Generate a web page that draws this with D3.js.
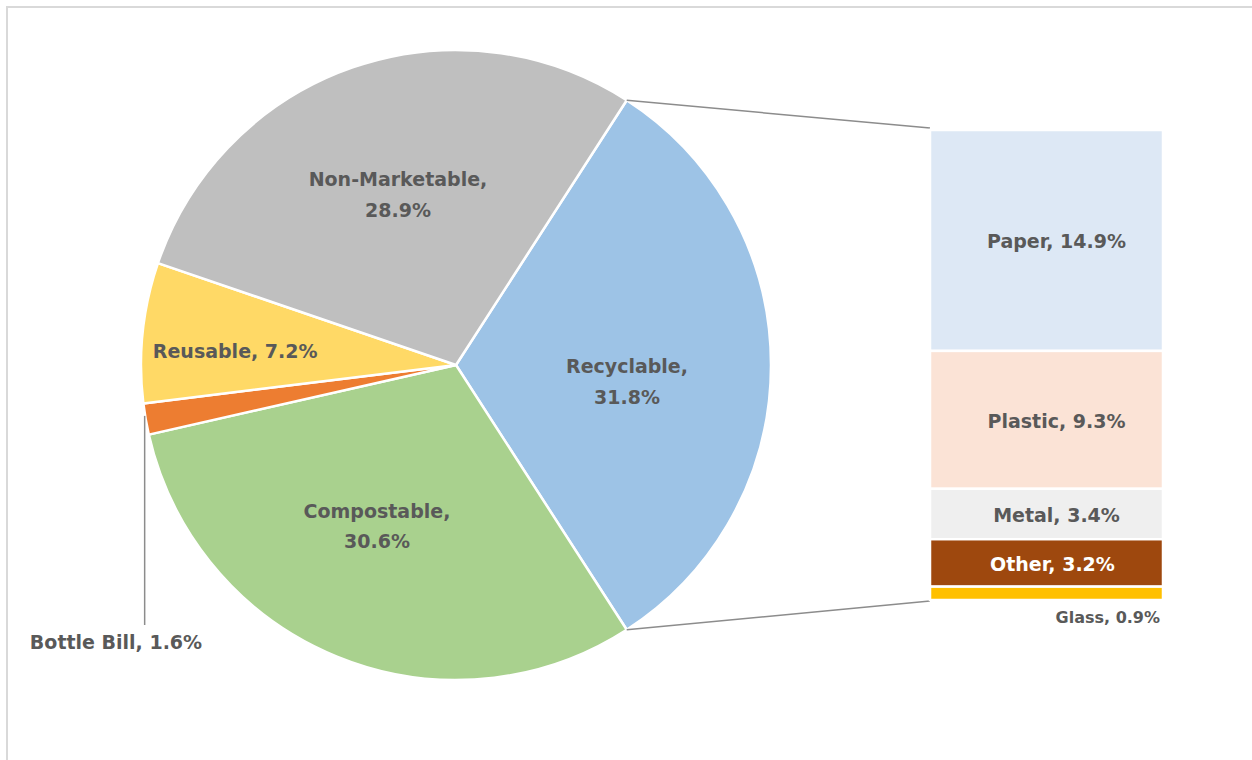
<!DOCTYPE html>
<html>
<head>
<meta charset="utf-8">
<script src="https://cdn.jsdelivr.net/npm/d3@7"></script>
<style>
  body { margin: 0; background: #fff; }
  text { font-family: "DejaVu Sans", "Open Sans", sans-serif; font-weight: 700; }
</style>
</head>
<body>
<script>
// main pie, clockwise from the top of the Recyclable slice
var pieNames = ["Recyclable", "Compostable", "Bottle Bill", "Reusable", "Non-Marketable"];
var pieValues = [31.8, 30.6, 1.6, 7.2, 28.9];
var pieColors = ["#9dc3e6", "#a9d18e", "#ed7d31", "#ffd966", "#bfbfbf"];

// breakdown of the Recyclable slice, top to bottom
var barNames = ["Paper", "Plastic", "Metal", "Other", "Glass"];
var barValues = [14.9, 9.3, 3.4, 3.2, 0.9];
var barColors = ["#dde8f5", "#fbe3d6", "#efefef", "#9e480e", "#ffc000"];

var W = 1252, H = 760;
var cx = 456, cy = 365, R = 315;
var fmt = d3.format(".1f");

var svg = d3.select("body").append("svg").attr("width", W).attr("height", H);

// frame (only top and left edges fall inside the picture)
svg.append("rect").attr("x", 7).attr("y", 7).attr("width", W + 20).attr("height", H + 20)
  .attr("fill", "none").attr("stroke", "#d9d9d9").attr("stroke-width", 2);

var total = d3.sum(pieValues);
var startA = (90 - pieValues[0] / total * 360 / 2) * Math.PI / 180;

var pie = d3.pie().sort(null).value(function (d) { return d; })
  .startAngle(startA).endAngle(startA + 2 * Math.PI);
var arcs = pie(pieValues);
var arc = d3.arc().innerRadius(0).outerRadius(R);

var g = svg.append("g").attr("transform", "translate(" + cx + "," + cy + ")");

// connector lines from Recyclable edges to bar
var rec = arcs[0];
var yBar = d3.scaleLinear().domain([0, d3.sum(barValues)]).range([130, 600]);
var barX = 930, barW = 233;
function pt(a) { return [cx + R * Math.sin(a), cy - R * Math.cos(a)]; }
var p1 = pt(rec.startAngle), p2 = pt(rec.endAngle);
svg.append("line").attr("x1", p1[0]).attr("y1", p1[1]).attr("x2", barX).attr("y2", yBar(0) - 2)
  .attr("stroke", "#8c8c8c").attr("stroke-width", 1.5);
svg.append("line").attr("x1", p2[0]).attr("y1", p2[1]).attr("x2", barX).attr("y2", yBar(d3.sum(barValues)) + 1)
  .attr("stroke", "#8c8c8c").attr("stroke-width", 1.5);

g.selectAll("path").data(arcs).enter().append("path")
  .attr("d", arc)
  .attr("fill", function (d, i) { return pieColors[i]; })
  .attr("stroke", "#fff").attr("stroke-width", 2.5).attr("stroke-linejoin", "round");

// pie labels
var labelArc = d3.arc().innerRadius(180).outerRadius(180);
var nudge = [[-9, 12], [-11, -10], [0, 0], [0, 0], [1, -5]];
arcs.forEach(function (d, i) {
  if (i === 2 || i === 3) return;
  var c = labelArc.centroid(d);
  var x = c[0] + nudge[i][0];
  var t = g.append("text").attr("text-anchor", "middle").attr("fill", "#595959").style("font-size", "19px")
    .attr("x", x).attr("y", c[1] + nudge[i][1]);
  t.append("tspan").attr("x", x).attr("dy", "-0.2em").text(pieNames[i] + ",");
  t.append("tspan").attr("x", x).attr("dy", "1.6em").text(fmt(pieValues[i]) + "%");
});

// Reusable label
var cr = d3.arc().innerRadius(222).outerRadius(222).centroid(arcs[3]);
g.append("text").attr("x", cr[0]).attr("y", cr[1] + 16).attr("text-anchor", "middle")
  .attr("fill", "#595959").style("font-size", "19px")
  .text(pieNames[3] + ", " + fmt(pieValues[3]) + "%");

// Bottle Bill leader + label
var bb = arcs[2];
var bbA = (bb.startAngle + bb.endAngle) / 2 + 0.02;
var bp = pt(bbA);
svg.append("line").attr("x1", bp[0]).attr("y1", bp[1] + 3).attr("x2", bp[0]).attr("y2", 625)
  .attr("stroke", "#8c8c8c").attr("stroke-width", 1.5);
svg.append("text").attr("x", 116).attr("y", 649).attr("text-anchor", "middle")
  .attr("fill", "#595959").style("font-size", "19px")
  .text(pieNames[2] + ", " + fmt(pieValues[2]) + "%");

// stacked bar
var cum = 0;
var segs = barValues.map(function (v, i) { var s = { i: i, y0: cum, y1: cum + v }; cum += v; return s; });
svg.selectAll("rect.seg").data(segs).enter().append("rect").attr("class", "seg")
  .attr("x", barX).attr("width", barW)
  .attr("y", function (d) { return yBar(d.y0); })
  .attr("height", function (d) { return yBar(d.y1) - yBar(d.y0); })
  .attr("fill", function (d) { return barColors[d.i]; })
  .attr("stroke", "#fff").attr("stroke-width", 2.5);

segs.forEach(function (d) {
  var i = d.i;
  var txt = barNames[i] + ", " + fmt(barValues[i]) + "%";
  if (i === 4) {
    svg.append("text").attr("x", 1160).attr("y", yBar(d.y1) + 23).attr("text-anchor", "end")
      .attr("fill", "#595959").style("font-size", "16px").text(txt);
  } else {
    svg.append("text").attr("x", barX + barW / 2 + (i === 3 ? 6 : 10))
      .attr("y", (yBar(d.y0) + yBar(d.y1)) / 2 + 8).attr("text-anchor", "middle")
      .attr("fill", i === 3 ? "#fff" : "#595959").style("font-size", "19px").text(txt);
  }
});
</script>
</body>
</html>
